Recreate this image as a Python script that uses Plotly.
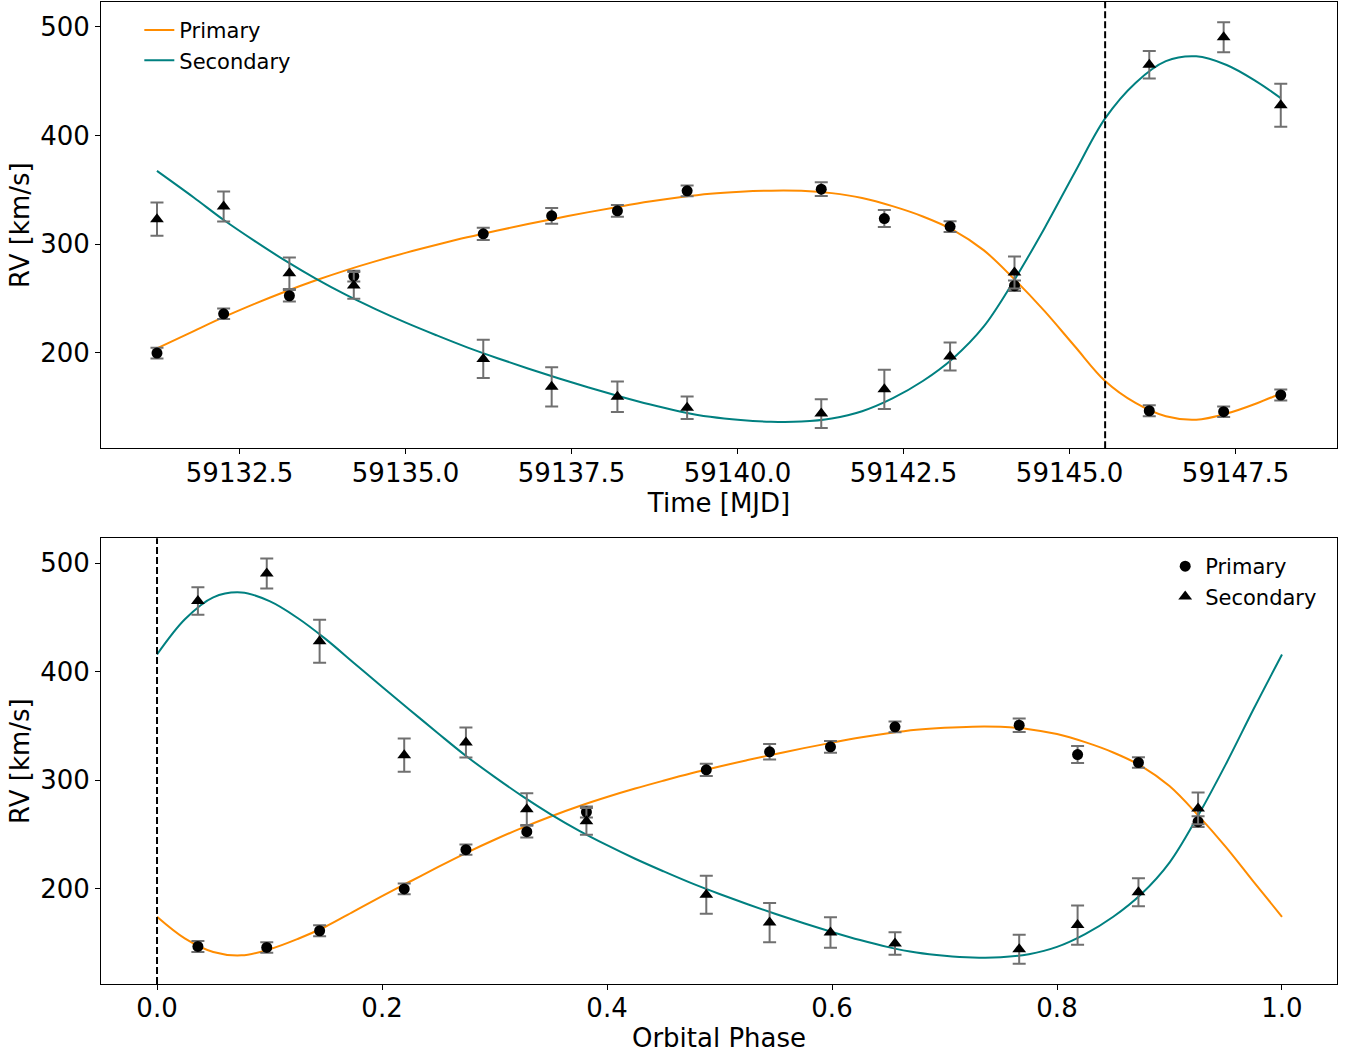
import plotly.graph_objects as go

# ---------------- data ----------------
period = 18.3          # days
t0 = 59145.535         # MJD of phase zero (dashed line)

times = [59131.256, 59132.26, 59133.25, 59134.22, 59136.17, 59137.20, 59138.19, 59139.24,
         59141.26, 59142.21, 59143.20, 59144.17, 59146.20, 59147.32, 59148.18]
rv_primary = [199.7, 235.9, 252.5, 270.6, 309.5, 326.1, 330.7, 349.1,
              350.6, 323.6, 316.2, 261.7, 146.6, 145.7, 161.1]
err_primary = [4.9, 4.8, 5.4, 5.0, 5.7, 7.2, 5.4, 4.9, 6.3, 7.8, 4.9, 4.9, 5.0, 4.8, 5.0]
rv_secondary = [323.0, 334.6, 273.2, 262.0, 194.3, 168.6, 159.5, 149.4,
                144.0, 166.3, 196.6, 273.9, 465.2, 490.5, 428.0]
err_secondary = [15.3, 13.8, 14.6, 12.3, 17.6, 18.0, 14.0, 10.4, 13.3, 18.1, 12.9, 14.7, 12.7, 13.8, 19.8]

# model curve (regular phase grid)
model_phase = [0.000, 0.025, 0.050, 0.075, 0.100, 0.125, 0.150, 0.175, 0.200, 0.225,
               0.250, 0.275, 0.300, 0.325, 0.350, 0.375, 0.400, 0.425, 0.450, 0.475,
               0.500, 0.525, 0.550, 0.575, 0.600, 0.625, 0.650, 0.675, 0.700, 0.725,
               0.750, 0.775, 0.800, 0.825, 0.850, 0.875, 0.900, 0.925, 0.950, 0.975, 1.000]
model_primary = [174.0, 153.8, 141.5, 138.4, 144.0, 153.5, 165.0, 179.0, 193.0, 206.5,
                 220.0, 233.0, 245.0, 256.2, 266.5, 275.9, 284.4, 292.2, 299.4, 306.3,
                 312.6, 318.5, 324.1, 329.5, 334.5, 339.2, 343.2, 346.4, 348.3, 349.3,
                 349.1, 347.0, 342.5, 335.0, 325.5, 313.0, 294.5, 268.0, 238.5, 206.0, 174.0]
model_secondary = [415.8, 448.5, 468.5, 473.0, 465.0, 449.5, 430.0, 408.0, 386.0, 364.5,
                   343.0, 322.0, 303.0, 285.0, 268.5, 253.5, 240.0, 227.5, 216.0, 205.0,
                   195.0, 185.5, 176.5, 168.0, 160.0, 152.5, 146.0, 141.0, 138.0, 136.4,
                   136.6, 139.5, 146.2, 158.0, 174.0, 195.0, 224.0, 266.5, 314.5, 366.0, 415.8]
# model values at the phases of the first and last observation (ends of the time-domain curve)
edge_phase = [0.1445, 0.2197]
edge_primary = [162.5, 204.0]
edge_secondary = [434.5, 367.5]

ORANGE = "#ff8c00"
TEAL = "#008080"
ERRC = "#707070"

# ------------- derived quantities -------------
phase = [((t - t0) / period) % 1.0 for t in times]
ph_last, ph_first = edge_phase

seg_a, seg_b = [], []
for ph, p, s in zip(model_phase + edge_phase, model_primary + edge_primary,
                    model_secondary + edge_secondary):
    if ph >= ph_first - 1e-6 and ph < 1.0 and not (0 < ph - ph_first < 0.01):
        seg_a.append((t0 + period * (ph - 1.0), p, s))
    if ph <= ph_last + 1e-6 and not (0 < ph_last - ph < 0.01):
        seg_b.append((t0 + period * ph, p, s))
top = sorted(seg_a) + sorted(seg_b)
top_t = [r[0] for r in top]
top_p = [r[1] for r in top]
top_s = [r[2] for r in top]

fig = go.Figure()

line_kw = dict(mode="lines", line_shape="spline")
# top panel: model
fig.add_trace(go.Scatter(x=top_t, y=top_p, name="Primary", line=dict(color=ORANGE, width=2),
                         xaxis="x", yaxis="y", legend="legend", **line_kw))
fig.add_trace(go.Scatter(x=top_t, y=top_s, name="Secondary", line=dict(color=TEAL, width=2),
                         xaxis="x", yaxis="y", legend="legend", **line_kw))
# bottom panel: model
fig.add_trace(go.Scatter(x=model_phase, y=model_primary, showlegend=False,
                         line=dict(color=ORANGE, width=2), xaxis="x2", yaxis="y2", **line_kw))
fig.add_trace(go.Scatter(x=model_phase, y=model_secondary, showlegend=False,
                         line=dict(color=TEAL, width=2), xaxis="x2", yaxis="y2", **line_kw))


def err(arr):
    return dict(type="data", array=arr, visible=True, color=ERRC, thickness=2, width=6.5)


for xs, xa, ya, show in [(times, "x", "y", False), (phase, "x2", "y2", True)]:
    fig.add_trace(go.Scatter(x=xs, y=rv_primary, mode="markers", name="Primary",
                             marker=dict(symbol="circle", size=11, color="black"),
                             error_y=err(err_primary), xaxis=xa, yaxis=ya,
                             showlegend=show, legend="legend2"))
    fig.add_trace(go.Scatter(x=xs, y=rv_secondary, mode="markers", name="Secondary",
                             marker=dict(symbol="triangle-up", size=12, color="black"),
                             error_y=err(err_secondary), xaxis=xa, yaxis=ya,
                             showlegend=show, legend="legend2"))

axis_common = dict(showline=True, linecolor="black", linewidth=1, mirror=True,
                   ticks="outside", ticklen=5, tickwidth=1, tickcolor="black",
                   showgrid=False, zeroline=False, automargin=False,
                   tickfont=dict(size=26, color="black"))

fig.update_layout(
    width=1352, height=1056,
    margin=dict(l=101, r=15, t=2, b=72),
    plot_bgcolor="white", paper_bgcolor="white",
    font=dict(family="DejaVu Sans", color="black"),
    xaxis=dict(domain=[0, 1], anchor="y", range=[59130.413, 59149.027],
               tick0=59132.5, dtick=2.5, tickformat=".1f", ticklabelstandoff=-4,
               title=dict(text="Time [MJD]", font=dict(size=26), standoff=2), **axis_common),
    yaxis=dict(domain=[0.5455, 1.0], anchor="x", range=[112, 523], dtick=100,
               title=dict(text="RV [km/s]", font=dict(size=26), standoff=3), **axis_common),
    xaxis2=dict(domain=[0, 1], anchor="y2", range=[-0.0498, 1.0489], dtick=0.2, tickformat=".1f",
                ticklabelstandoff=-4,
                title=dict(text="Orbital Phase", font=dict(size=26), standoff=6), **axis_common),
    yaxis2=dict(domain=[0, 0.4539], anchor="x2", range=[112, 523], dtick=100,
                title=dict(text="RV [km/s]", font=dict(size=26), standoff=3), **axis_common),
    legend=dict(x=0.031, y=0.992, xanchor="left", yanchor="top", bgcolor="rgba(0,0,0,0)",
                font=dict(size=21), borderwidth=0),
    legend2=dict(x=0.861, y=0.446, xanchor="left", yanchor="top", bgcolor="rgba(0,0,0,0)",
                 font=dict(size=21), borderwidth=0),
    shapes=[
        dict(type="line", xref="x", yref="y domain", x0=t0, x1=t0, y0=0, y1=1,
             line=dict(color="black", width=2, dash="7px,3px")),
        dict(type="line", xref="x2", yref="y2 domain", x0=0, x1=0, y0=0, y1=1,
             line=dict(color="black", width=2, dash="7px,3px")),
    ],
)

fig.write_html("out.html", config={"displayModeBar": False},
               post_script="document.body.style.margin='0px';document.body.style.overflow='hidden';")
